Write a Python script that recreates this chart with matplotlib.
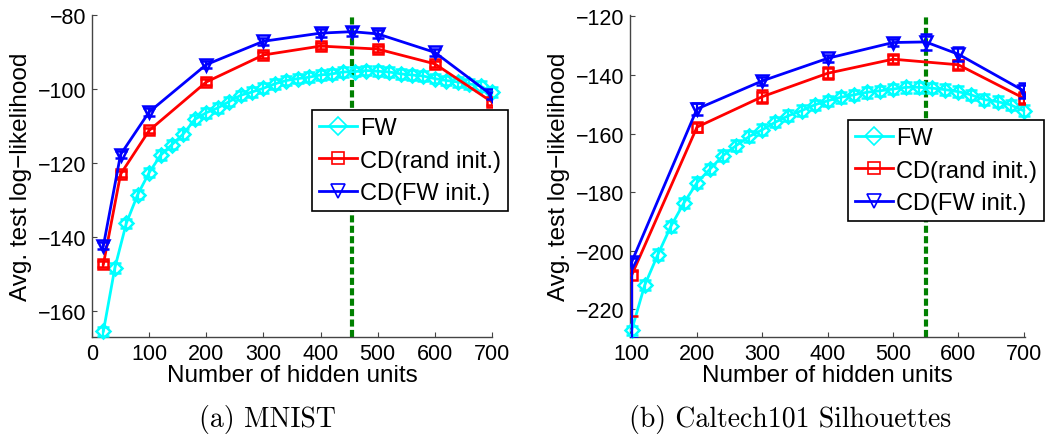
import matplotlib.pyplot as plt
from matplotlib.lines import Line2D

# ---- (a) MNIST ----
mn_fw_x = list(range(20, 701, 20))
mn_fw_y = [-165.4, -148.3, -136.3, -128.5, -122.6, -117.9, -115.0, -112.1, -108.2, -106.4,
           -105.1, -103.4, -101.7, -100.8, -99.8, -98.6, -97.7, -97.2, -96.8, -96.2,
           -95.9, -95.4, -95.3, -95.0, -95.2, -95.4, -95.9, -96.2, -96.5, -97.2,
           -97.7, -98.1, -98.6, -99.2, -100.8]
mn_fw_err = [1.2, 1.3, 1.3, 1.3, 1.3, 1.3, 1.3, 1.3, 1.3, 1.3,
             1.3, 1.3, 1.3, 1.3, 1.3, 1.3, 1.3, 1.3, 1.3, 1.3,
             1.3, 1.3, 1.3, 1.3, 1.3, 1.3, 1.3, 1.3, 1.3, 1.3,
             1.3, 1.3, 1.3, 1.3, 1.3]
mn_rand_x = [20, 50, 100, 200, 300, 400, 500, 600, 700]
mn_rand_y = [-147.3, -123.0, -111.2, -98.1, -90.8, -88.4, -89.2, -93.2, -103.5]
mn_rand_lo = [0.8, 0.8, 0.8, 0.8, 0.8, 0.8, 0.8, 0.8, 0.8]
mn_rand_hi = [0.8, 0.8, 0.8, 0.8, 0.8, 0.8, 0.8, 0.8, 0.8]
mn_cdfw_x = [20, 50, 100, 200, 300, 400, 455, 500, 600, 700]
mn_cdfw_y = [-142.3, -117.7, -106.2, -93.4, -87.1, -84.9, -84.5, -85.1, -90.1, -101.7]
mn_cdfw_lo = [1.0, 1.0, 1.0, 1.0, 1.0, 1.0, 1.2, 1.0, 1.0, 1.0]
mn_cdfw_hi = [1.0, 1.0, 1.0, 1.0, 1.0, 1.0, 1.2, 1.0, 1.0, 1.0]
mn_best = 455

# ---- (b) Caltech101 Silhouettes ----
ct_fw_x = list(range(100, 701, 20))
ct_fw_y = [-227.2, -211.8, -201.4, -191.7, -183.7, -176.8, -172.1, -167.5, -164.1, -161.0,
           -158.7, -156.1, -153.9, -152.2, -150.2, -148.8, -147.6, -146.8, -145.9, -145.4,
           -144.8, -144.2, -144.2, -144.5, -145.0, -145.7, -146.8, -148.4, -149.1, -150.2,
           -152.2]
ct_fw_err = [1.5, 1.8, 1.8, 1.8, 1.8, 1.8, 1.8, 1.8, 1.8, 1.8,
             1.8, 1.8, 1.8, 1.8, 1.8, 1.8, 1.8, 1.8, 1.8, 1.8,
             1.8, 1.8, 1.8, 1.8, 1.8, 1.8, 1.8, 1.8, 1.8, 1.8,
             1.8]
ct_rand_x = [100, 200, 300, 400, 500, 600, 700]
ct_rand_y = [-208.4, -157.8, -147.4, -139.4, -134.6, -136.5, -147.9]
ct_rand_lo = [14.0, 1.5, 2.2, 2.0, 1.3, 1.5, 2.0]
ct_rand_hi = [1.5, 1.5, 2.2, 2.0, 1.3, 1.5, 2.0]
ct_cdfw_x = [100, 200, 300, 400, 500, 550, 600, 700]
ct_cdfw_y = [-203.9, -151.6, -142.0, -134.3, -128.9, -128.7, -132.9, -145.4]
ct_cdfw_lo = [26.0, 2.0, 1.3, 1.3, 1.3, 2.8, 2.3, 2.5]
ct_cdfw_hi = [1.5, 2.0, 1.3, 1.3, 1.3, 2.8, 2.3, 2.5]
ct_best = 550

xticks_a = [0, 100, 200, 300, 400, 500, 600, 700]
yticks_a = [-160, -140, -120, -100, -80]
xticks_b = [100, 200, 300, 400, 500, 600, 700]
yticks_b = [-220, -200, -180, -160, -140, -120]

plt.rcParams['font.family'] = ['Liberation Sans', 'DejaVu Sans']

fig = plt.figure(figsize=(10.48, 4.35), dpi=100)

W, H = 1048, 435

CYAN, RED, BLUE = '#00FFFF', '#FF0000', '#0000FF'


def px_axes(x0, y0, x1, y1):
    return fig.add_axes([x0 / W, 1 - y1 / H, (x1 - x0) / W, (y1 - y0) / H])


def panel(ax, fw, rand, cdfw, best, xlim, ylim, xticks, yticks, leg_xy):
    lw = 2
    eb = dict(lw=lw, mfc='none', mew=1.8, capsize=4, elinewidth=1.6, capthick=1.6)
    ax.errorbar(fw[0], fw[1], yerr=fw[2], color=CYAN, marker='D', ms=7,
                clip_on=False, zorder=3, **eb)
    ax.errorbar(rand[0], rand[1], yerr=[rand[2], rand[3]], color=RED, marker='s', ms=7,
                zorder=4, **eb)
    ax.errorbar(cdfw[0], cdfw[1], yerr=[cdfw[2], cdfw[3]], color=BLUE, marker='v', ms=8.5,
                zorder=5, **eb)
    ax.axvline(best, color='#008000', lw=3, dashes=(1.7, 0.8), zorder=2)

    ax.set_xlim(*xlim)
    ax.set_ylim(*ylim)
    ax.set_xticks(xticks)
    ax.set_yticks(yticks)
    for s in ['top', 'right']:
        ax.spines[s].set_visible(False)
    for s in ['left', 'bottom']:
        ax.spines[s].set_color('#444444')
        ax.spines[s].set_linewidth(1.0)
    ax.tick_params(direction='in', length=3.5, width=0.8, color='#444444',
                   labelsize=15.5, pad=4)
    ax.set_xlabel('Number of hidden units', fontsize=17.5, labelpad=0)
    ax.set_ylabel('Avg. test log\u2212likelihood', fontsize=17.5, labelpad=4)

    handles = [
        Line2D([], [], color=CYAN, lw=lw, marker='D', ms=9, mfc='none', mew=1.2),
        Line2D([], [], color=RED, lw=lw, marker='s', ms=9, mfc='none', mew=1.2),
        Line2D([], [], color=BLUE, lw=lw, marker='v', ms=10, mfc='none', mew=1.2),
    ]
    leg = ax.legend(handles, ['FW', 'CD(rand init.)', 'CD(FW init.)'],
                    loc='upper left', bbox_to_anchor=(leg_xy[0] / W, 1 - leg_xy[1] / H),
                    bbox_transform=fig.transFigure, fontsize=17, frameon=True,
                    fancybox=False, handlelength=1.6, handletextpad=0.15,
                    borderpad=0.3, labelspacing=0.45, borderaxespad=0, framealpha=1)
    leg.get_frame().set_edgecolor('black')
    leg.get_frame().set_linewidth(1.2)
    return ax


ax1 = px_axes(92, 16, 492, 338)
panel(ax1, (mn_fw_x, mn_fw_y, mn_fw_err), (mn_rand_x, mn_rand_y, mn_rand_lo, mn_rand_hi),
      (mn_cdfw_x, mn_cdfw_y, mn_cdfw_lo, mn_cdfw_hi), mn_best,
      (0, 700), (-167, -80), xticks_a, yticks_a, (312, 111))

ax2 = px_axes(630, 16, 1025, 338)
panel(ax2, (ct_fw_x, ct_fw_y, ct_fw_err), (ct_rand_x, ct_rand_y, ct_rand_lo, ct_rand_hi),
      (ct_cdfw_x, ct_cdfw_y, ct_cdfw_lo, ct_cdfw_hi), ct_best,
      (97.5, 702), (-229.5, -119.5), xticks_b, yticks_b, (848, 121))

fig.text(267 / W, 1 - 420 / H, '(a) MNIST', family='cmr10', fontsize=20,
         ha='center', va='center')
fig.text(790 / W, 1 - 420 / H, '(b) Caltech101 Silhouettes', family='cmr10', fontsize=20,
         ha='center', va='center')

fig.savefig('out.png', dpi=100)
